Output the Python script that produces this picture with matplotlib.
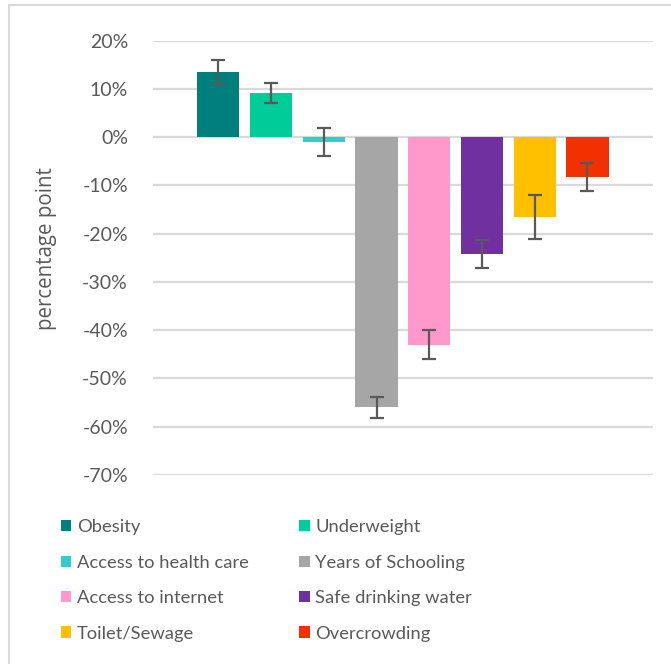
import matplotlib.pyplot as plt
from matplotlib.patches import Patch, Rectangle
from matplotlib.ticker import PercentFormatter

plt.rcParams['font.family'] = ['Lato', 'DejaVu Sans']
plt.rcParams['axes.unicode_minus'] = False

# differences in percentage points, with their error margins
labels = ['Obesity', 'Underweight', 'Access to health care', 'Years of Schooling',
          'Access to internet', 'Safe drinking water', 'Toilet/Sewage', 'Overcrowding']
values = [13.5, 9.2, -1.1, -56.0, -43.0, -24.3, -16.6, -8.3]
errors = [2.5, 2.1, 2.9, 2.2, 3.0, 2.9, 4.6, 2.9]
colors = ['#007f7f', '#00cc99', '#33cccc', '#a6a6a6',
          '#ff99cc', '#7030a0', '#ffc000', '#f23000']
yticks = [20, 10, 0, -10, -20, -30, -40, -50, -60, -70]

text_col = '#595959'

fig = plt.figure(figsize=(6.71, 6.64), dpi=100)
ax = fig.add_axes([0.228, 0.285, 0.745, 0.6537])

x = list(range(len(values)))
ax.bar(x, values, width=0.8, color=colors, zorder=2)
ax.errorbar(x, values, yerr=errors, fmt='none', ecolor=text_col,
            elinewidth=1.6, capsize=5, capthick=1.6, zorder=3)

ax.set_xlim(-1.24, 8.24)
ax.set_ylim(-70, 20)
ax.set_yticks(yticks)
ax.yaxis.set_major_formatter(PercentFormatter(decimals=0))
ax.set_xticks([])
ax.grid(axis='y', color='#d9d9d9', lw=1.6, zorder=0)
ax.tick_params(axis='y', length=0, pad=18, labelsize=14, labelcolor=text_col)
for s in ax.spines.values():
    s.set_visible(False)

ax.set_ylabel('percentage point', fontsize=14.8, color=text_col, family='Open Sans')
ax.yaxis.set_label_coords(-0.192, 0.522)

# legend split into two columns
handles = [Patch(facecolor=c, edgecolor='none') for c in colors]
leg_kw = dict(loc='upper left', frameon=False, fontsize=13.2,
              handlelength=0.56, handleheight=0.56, handletextpad=0.3,
              labelspacing=1.06, borderaxespad=0, borderpad=0,
              labelcolor=text_col)
fig.legend(handles[0::2], labels[0::2], bbox_to_anchor=(0.091, 0.218), **leg_kw)
fig.legend(handles[1::2], labels[1::2], bbox_to_anchor=(0.446, 0.218), **leg_kw)

# chart frame
fig.patches.append(Rectangle((0.0135, -0.01), 1.0, 1.002, transform=fig.transFigure,
                             fill=False, edgecolor='#d9d9d9', lw=1.5))

fig.savefig('out.png', dpi=100)
